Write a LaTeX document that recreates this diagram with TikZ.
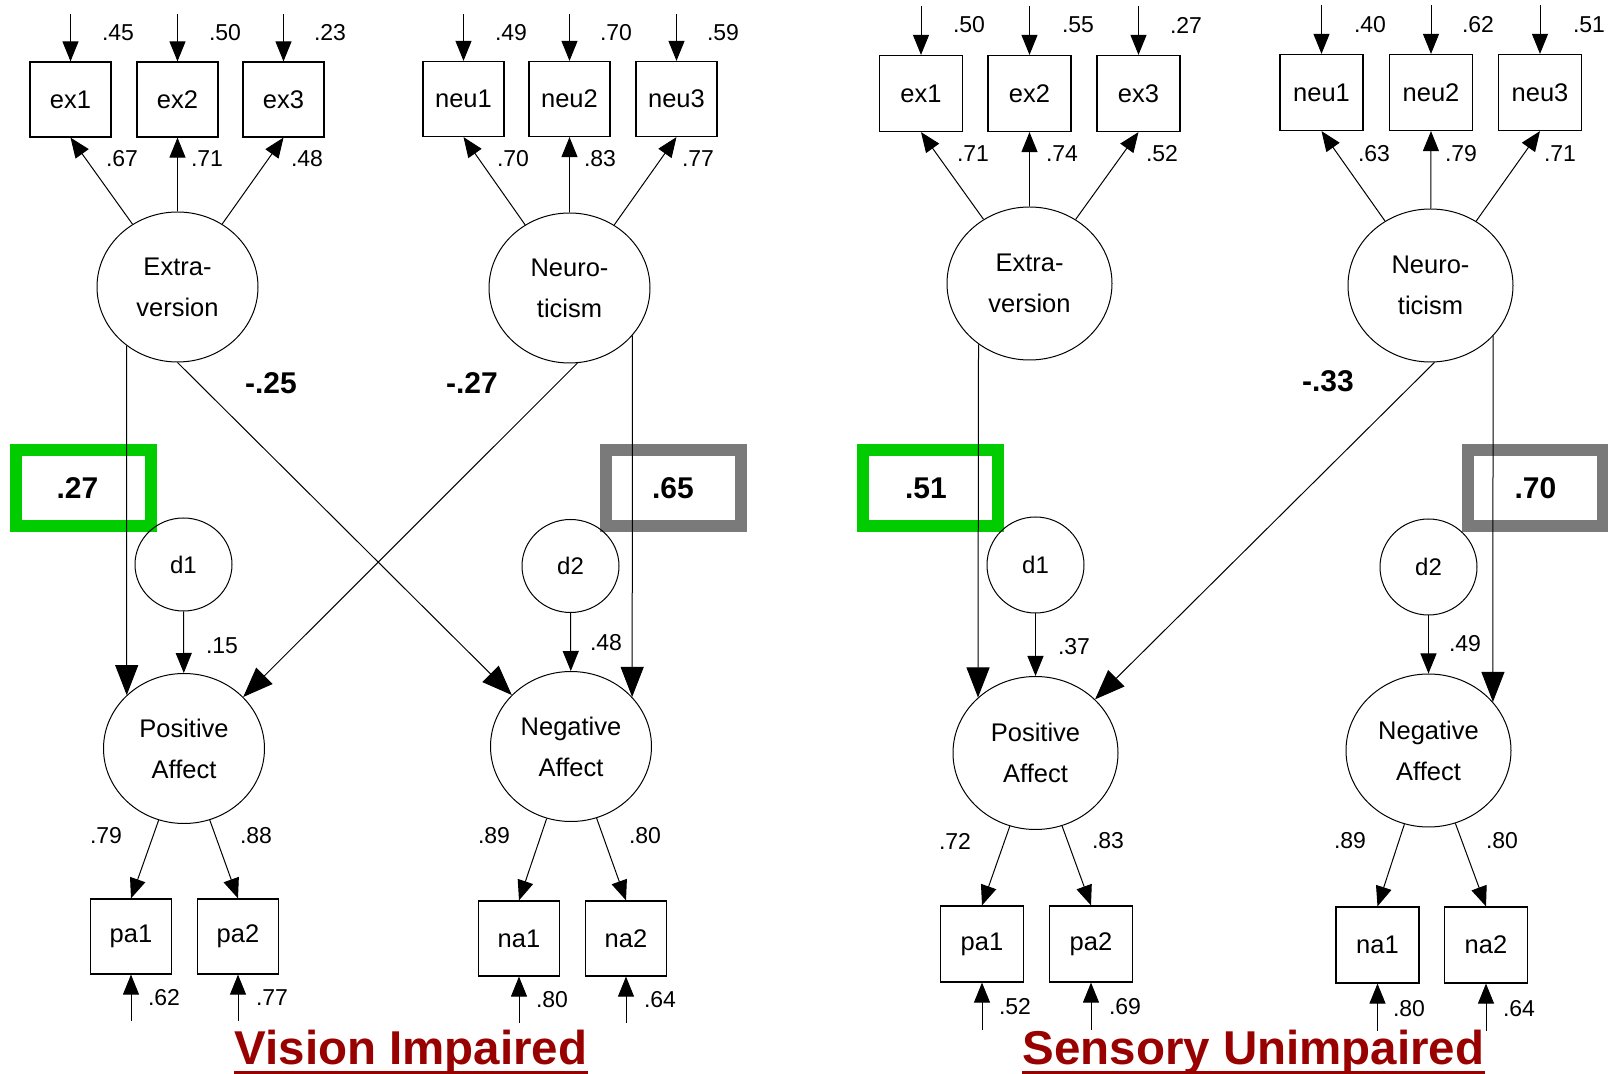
\documentclass[tikz,border=0pt]{standalone}
\usepackage{fontspec}
\setmainfont{Liberation Sans}
\usepackage{xcolor}
\usepackage{tikz}
\usetikzlibrary{arrows.meta, shapes.geometric}

\definecolor{rsqgreen}{RGB}{0,204,0}
\definecolor{rsqgrey}{RGB}{122,122,122}
\definecolor{titlered}{RGB}{153,0,0}

\tikzset{
  obs/.style={draw, line width=0.6pt, minimum width=40.5pt, minimum height=37.5pt,
              inner sep=0pt, font=\fontsize{12.75}{15}\selectfont},
  lat/.style={draw, ellipse, line width=0.5pt, minimum width=80.5pt, minimum height=75pt,
              inner sep=0pt, align=center, font=\fontsize{12.75}{20.5}\selectfont},
  dis/.style={draw, ellipse, line width=0.5pt, minimum width=48.5pt, minimum height=46.5pt,
              inner sep=0pt, font=\fontsize{12}{14}\selectfont},
  arr/.style={line width=0.5pt, -{Triangle[length=10pt, width=8pt]}},
  bigarr/.style={line width=0.5pt, -{Triangle[length=15pt, width=11.5pt]}},
  num/.style={inner sep=0pt, font=\fontsize{11.5}{13}\selectfont},
  coef/.style={inner sep=0pt, font=\bfseries\fontsize{15}{18}\selectfont},
  rsq/.style={draw=#1, line width=6pt, minimum width=67.5pt, minimum height=38pt,
              inner sep=0pt, font=\bfseries\fontsize{15}{18}\selectfont},
  grouptitle/.style={inner sep=0pt, anchor=base, text=titlered,
              font=\bfseries\fontsize{23.75}{28}\selectfont}
}

\begin{document}
\begin{tikzpicture}[x=0.5pt, y=-0.5pt]
\useasboundingbox (0,0) rectangle (1608,1074);

% squared multiple correlations, drawn first so the paths run over them
\node[rsq=rsqgreen] (vr2pa) at (83.5,488) {.27\hspace*{6pt}};
\node[rsq=rsqgrey] (vr2na) at (673,488) {.65};
\node[rsq=rsqgreen] (sr2pa) at (930,488) {.51\hspace*{4pt}};
\node[rsq=rsqgrey] (sr2na) at (1535.5,488) {.70};

% vision impaired
\node[lat] (vext) at (177.5,287) {Extra-\\version};
\node[lat] (vneu) at (569.5,288) {Neuro-\\ticism};
\node[lat] (vpa) at (184,748.5) {Positive\\Affect};
\node[lat] (vna) at (571,746.5) {Negative\\Affect};
\node[dis] (vd1) at (183.5,564.5) {d1};
\node[dis] (vd2) at (570.5,566) {d2};

\foreach \n/\x/\ev/\evx/\ld/\ldx in {ex1/70.5/.45/118/.67/122, ex2/177.5/.50/225/.71/207,
                                     ex3/283.5/.23/330/.48/307}{
  \node[obs] (v\n) at (\x,99.5) {\n};
  \draw[arr] ([yshift=23.5pt]v\n.north) -- (v\n.north);
  \draw[arr] (vext) -- (v\n.south);
  \node[num] (v\n-var) at (\evx,33) {\ev};
  \node[num] (v\n-ld) at (\ldx,159) {\ld};
}
\foreach \n/\x/\ev/\evx/\ld/\ldx in {neu1/463.5/.49/511/.70/513, neu2/569.5/.70/616/.83/600,
                                     neu3/676.5/.59/723/.77/698}{
  \node[obs] (v\n) at (\x,99) {\n};
  \draw[arr] ([yshift=23.5pt]v\n.north) -- (v\n.north);
  \draw[arr] (vneu) -- (v\n.south);
  \node[num] (v\n-var) at (\evx,33) {\ev};
  \node[num] (v\n-ld) at (\ldx,159) {\ld};
}
\foreach \n/\x/\ld/\ldx/\ev/\evx in {pa1/131/.79/106/.62/164, pa2/238/.88/256/.77/272}{
  \node[obs] (v\n) at (\x,936.5) {\n};
  \draw[arr] (vpa) -- (v\n.north);
  \draw[arr] ([yshift=-23pt]v\n.south) -- (v\n.south);
  \node[num] (v\n-ld) at (\ldx,836) {\ld};
  \node[num] (v\n-var) at (\evx,998) {\ev};
}
\foreach \n/\x/\ld/\ldx/\ev/\evx in {na1/519/.89/494/.80/552, na2/626/.80/645/.64/660}{
  \node[obs] (v\n) at (\x,938.5) {\n};
  \draw[arr] (vna) -- (v\n.north);
  \draw[arr] ([yshift=-23pt]v\n.south) -- (v\n.south);
  \node[num] (v\n-ld) at (\ldx,836) {\ld};
  \node[num] (v\n-var) at (\evx,1000) {\ev};
}

\draw[arr] (vd1) -- (vpa);
\draw[arr] (vd2) -- (vna);
\node[num] (vd1-ld) at (222,646) {.15};
\node[num] (vd2-ld) at (606,643) {.48};
\draw[bigarr] (vext.229) -- (vpa.137);
\draw[bigarr] (vneu.-37) -- (vna.39);
\draw[bigarr] (vext.south) -- (vna.139);
\draw[bigarr] (vneu.-84) -- (vpa.41);
\node[coef] (vext-na) at (271,383) {-.25};
\node[coef] (vneu-pa) at (472,383) {-.27};

\node[grouptitle] (vtitle) at (411,1065) {Vision Impaired};
\draw[titlered, line width=1.5pt] ([yshift=-3.5pt]vtitle.base west) -- ([yshift=-3.5pt]vtitle.base east);

% sensory unimpaired
\begin{scope}[lat/.append style={minimum width=82.5pt, minimum height=76.5pt},
              obs/.append style={minimum width=41.5pt, minimum height=38pt},
              dis/.append style={minimum height=48pt}]
\node[lat] (sext) at (1029.5,283.5) {Extra-\\version};
\node[lat] (sneu) at (1430.5,285.5) {Neuro-\\ticism};
\node[lat] (spa) at (1035.5,753) {Positive\\Affect};
\node[lat] (sna) at (1428.5,750.5) {Negative\\Affect};
\node[dis] (sd1) at (1035.5,565) {d1};
\node[dis] (sd2) at (1428.5,567) {d2};

\foreach \n/\x/\ev/\evx/\ld/\ldx in {ex1/921/.50/969/.71/973, ex2/1029.5/.55/1078/.74/1062,
                                     ex3/1138.5/.27/1186/.52/1162}{
  \node[obs] (s\n) at (\x,93.5) {\n};
  \draw[arr] ([yshift=24.5pt]s\n.north) -- (s\n.north);
  \draw[arr] (sext) -- (s\n.south);
  \node[num] (s\n-var) at (\evx,25) {\ev};
  \node[num] (s\n-ld) at (\ldx,154) {\ld};
}
\foreach \n/\x/\ev/\evx/\ld/\ldx in {neu1/1321.5/.40/1370/.63/1374, neu2/1431/.62/1478/.79/1461,
                                     neu3/1540/.51/1589/.71/1560}{
  \node[obs] (s\n) at (\x,92.5) {\n};
  \draw[arr] ([yshift=24.5pt]s\n.north) -- (s\n.north);
  \draw[arr] (sneu) -- (s\n.south);
  \node[num] (s\n-var) at (\evx,25) {\ev};
  \node[num] (s\n-ld) at (\ldx,154) {\ld};
}
\foreach \n/\x/\ld/\ldx/\ev/\evx in {pa1/982/.72/955/.52/1015, pa2/1091/.83/1108/.69/1125}{
  \node[obs] (s\n) at (\x,944) {\n};
  \draw[arr] (spa) -- (s\n.north);
  \draw[arr] ([yshift=-23.5pt]s\n.south) -- (s\n.south);
  \node[num] (s\n-ld) at (\ldx,841) {\ld};
  \node[num] (s\n-var) at (\evx,1007) {\ev};
}
\foreach \n/\x/\ld/\ldx/\ev/\evx in {na1/1377.5/.89/1350/.80/1409, na2/1486/.80/1502/.64/1519}{
  \node[obs] (s\n) at (\x,945) {\n};
  \draw[arr] (sna) -- (s\n.north);
  \draw[arr] ([yshift=-23.5pt]s\n.south) -- (s\n.south);
  \node[num] (s\n-ld) at (\ldx,841) {\ld};
  \node[num] (s\n-var) at (\evx,1009) {\ev};
}
\end{scope}

\draw[arr] (sd1) -- (spa);
\draw[arr] (sd2) -- (sna);
\node[num] (sd1-ld) at (1074,647) {.37};
\node[num] (sd2-ld) at (1465,644) {.49};
\draw[bigarr] (sext.230) -- (spa.136);
\draw[bigarr] (sneu.-39) -- (sna.37);
\draw[bigarr] (sneu.-87) -- (spa.42);
\node[coef] (sneu-pa) at (1328,381) {-.33};

\node[grouptitle] (stitle) at (1253.5,1065) {Sensory Unimpaired};
\draw[titlered, line width=1.5pt] ([yshift=-3.5pt]stitle.base west) -- ([yshift=-3.5pt]stitle.base east);
\end{tikzpicture}
\end{document}
